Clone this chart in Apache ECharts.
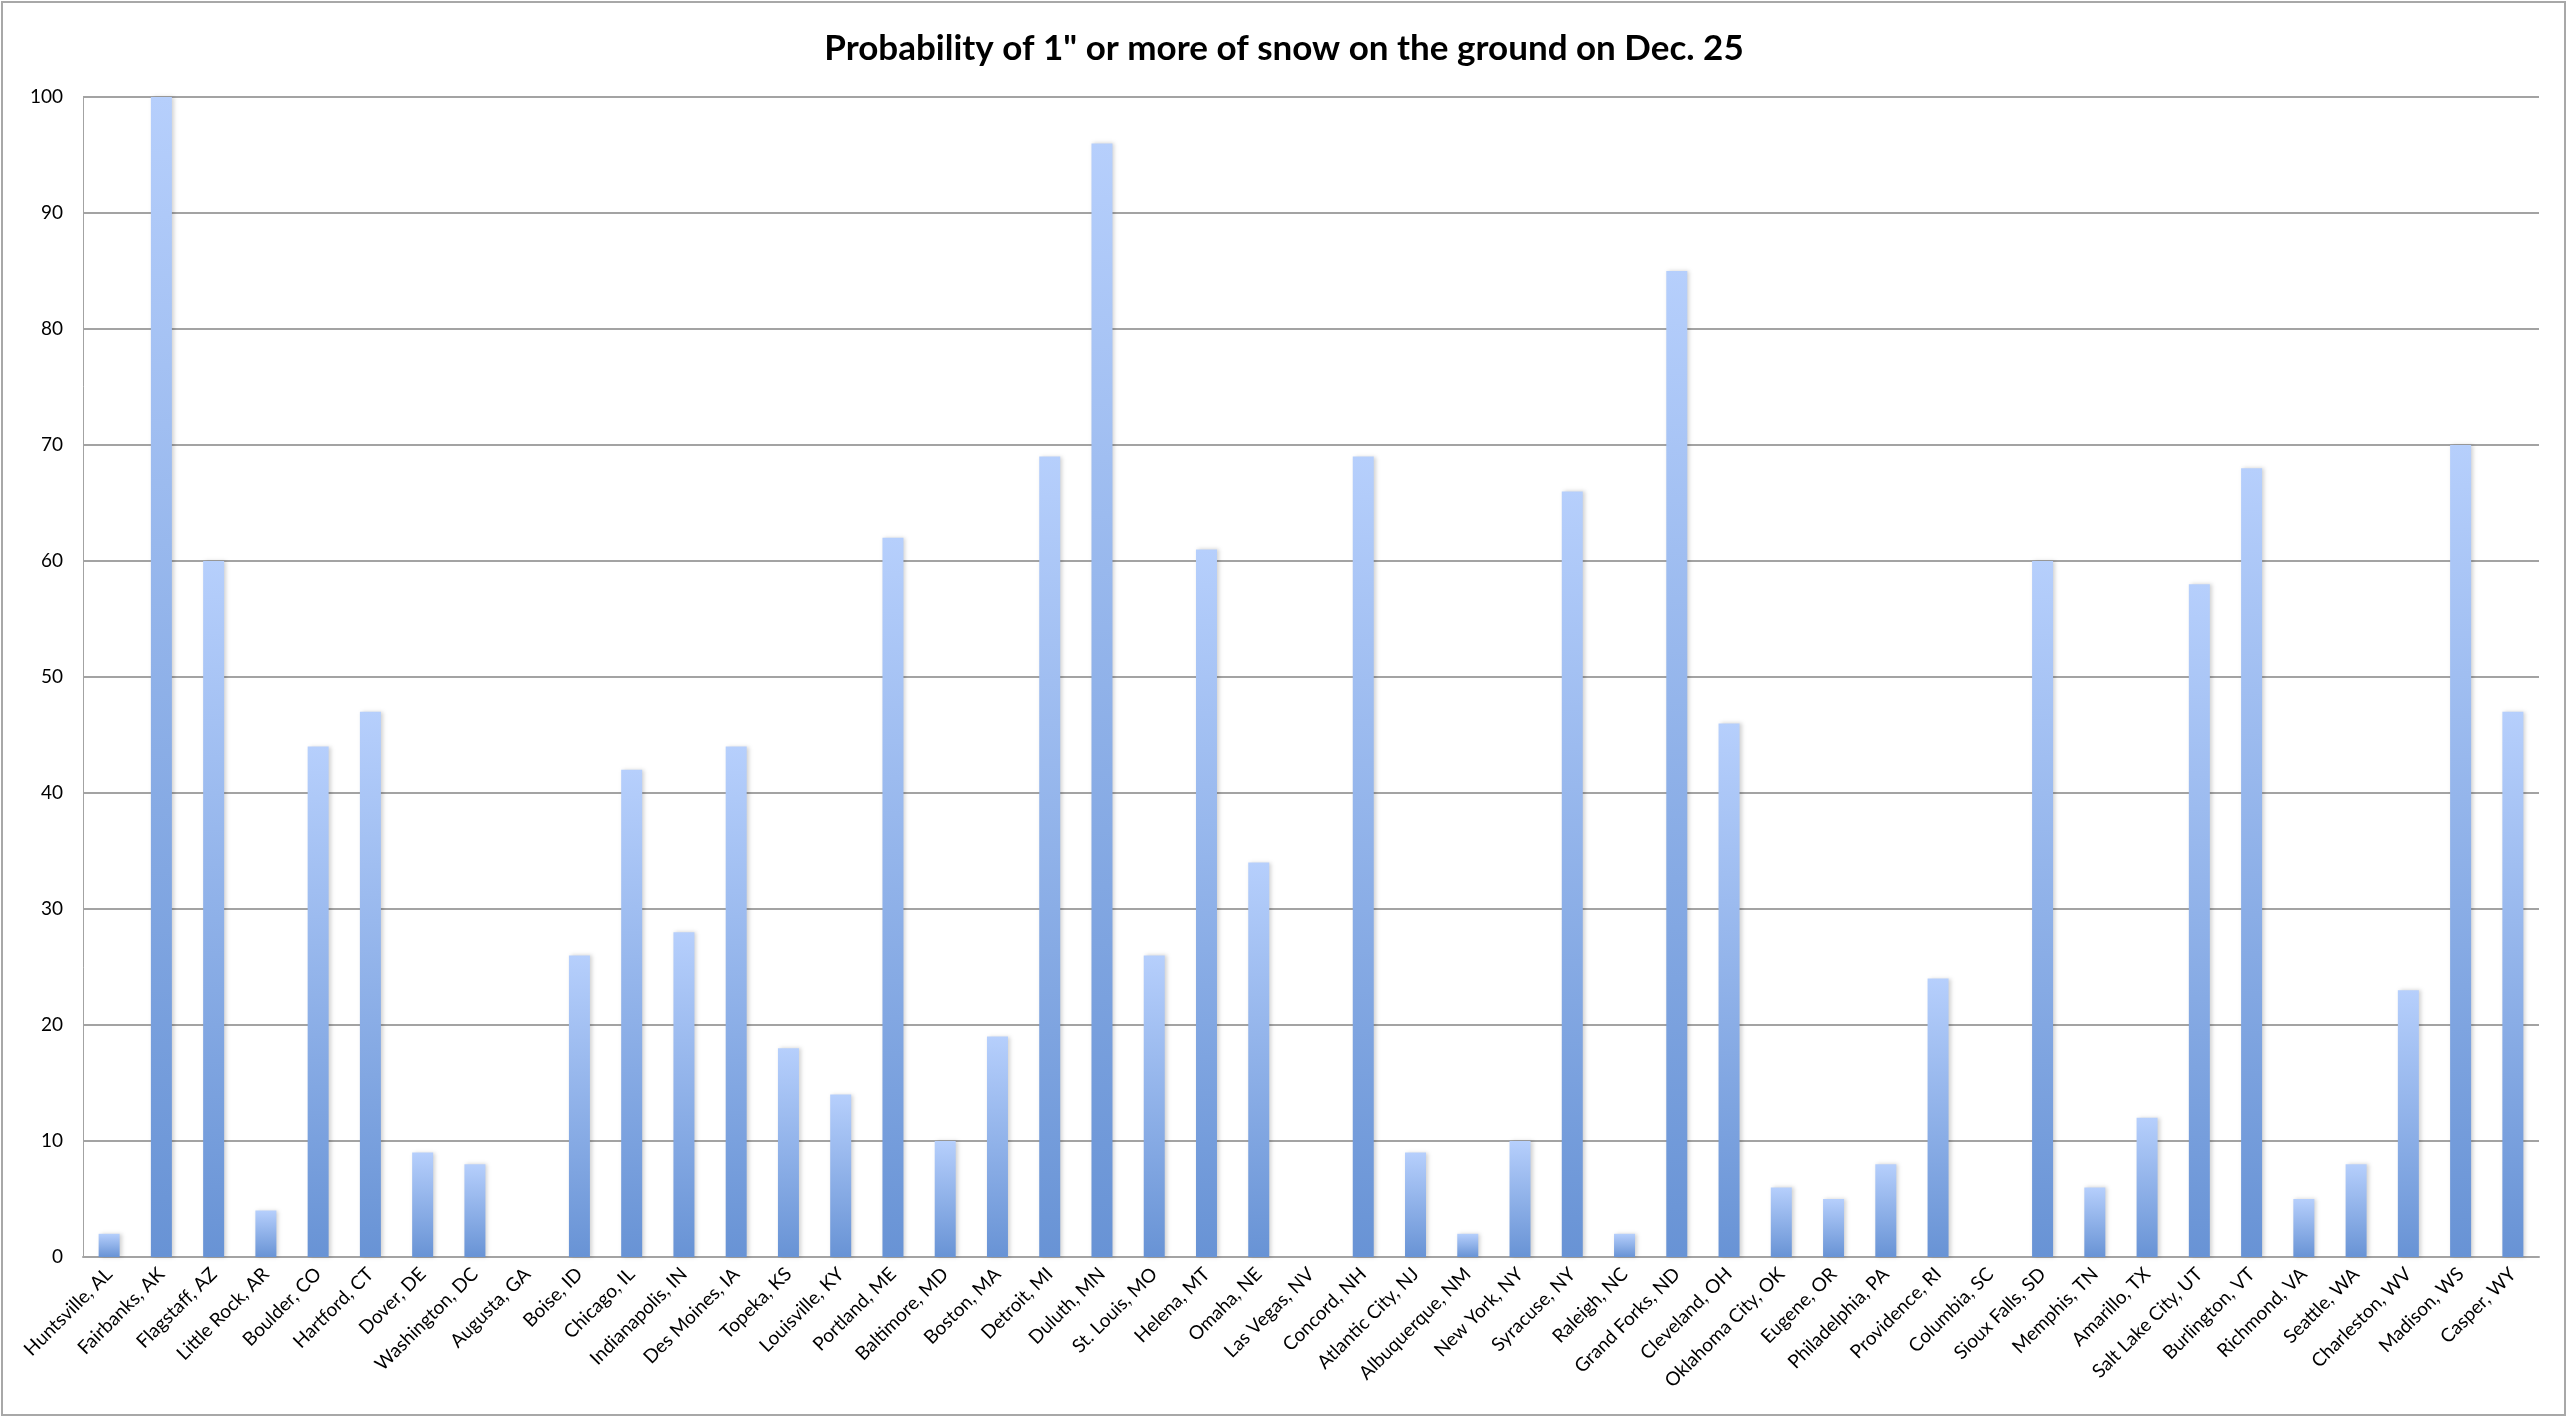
<!DOCTYPE html>
<html>
<head>
<meta charset="utf-8">
<script src="https://cdn.jsdelivr.net/npm/echarts@6/dist/echarts.min.js"></script>
<style>
  html, body { margin: 0; padding: 0; background: #ffffff; }
  #chart { width: 2568px; height: 1418px; }
</style>
</head>
<body>
<div id="chart"></div>
<script>
// Snow on Christmas: probability of >= 1" on the ground, by city.

const cities = [
  'Huntsville, AL', 'Fairbanks, AK', 'Flagstaff, AZ', 'Little Rock, AR', 'Boulder, CO',
  'Hartford, CT', 'Dover, DE', 'Washington, DC', 'Augusta, GA', 'Boise, ID',
  'Chicago, IL', 'Indianapolis, IN', 'Des Moines, IA', 'Topeka, KS', 'Louisville, KY',
  'Portland, ME', 'Baltimore, MD', 'Boston, MA', 'Detroit, MI', 'Duluth, MN',
  'St. Louis, MO', 'Helena, MT', 'Omaha, NE', 'Las Vegas, NV', 'Concord, NH',
  'Atlantic City, NJ', 'Albuquerque, NM', 'New York, NY', 'Syracuse, NY', 'Raleigh, NC',
  'Grand Forks, ND', 'Cleveland, OH', 'Oklahoma City, OK', 'Eugene, OR', 'Philadelphia, PA',
  'Providence, RI', 'Columbia, SC', 'Sioux Falls, SD', 'Memphis, TN', 'Amarillo, TX',
  'Salt Lake City, UT', 'Burlington, VT', 'Richmond, VA', 'Seattle, WA', 'Charleston, WV',
  'Madison, WS', 'Casper, WY'
];

const probability = [
  2, 100, 60, 4, 44,
  47, 9, 8, 0, 26,
  42, 28, 44, 18, 14,
  62, 10, 19, 69, 96,
  26, 61, 34, 0, 69,
  9, 2, 10, 66, 2,
  85, 46, 6, 5, 8,
  24, 0, 60, 6, 12,
  58, 68, 5, 8, 23,
  70, 47
];

const yMin = 0;
const yMax = 100;
const yStep = 10;

const GRID = '#a3a3a3';
const FONT = 'Lato, "Liberation Sans", sans-serif';

const chart = echarts.init(document.getElementById('chart'));

chart.setOption({
  animation: false,
  backgroundColor: '#ffffff',
  title: {
    text: 'Probability of 1" or more of snow on the ground on Dec. 25',
    left: 'center',
    top: 26,
    textStyle: { fontFamily: FONT, fontSize: 35, fontWeight: 'bold', color: '#000000' }
  },
  grid: { left: 83, right: 29, top: 97, bottom: 161, containLabel: false },
  xAxis: {
    type: 'category',
    data: cities,
    axisLine: { lineStyle: { color: GRID, width: 2 } },
    axisTick: { show: false },
    axisLabel: {
      interval: 0,
      rotate: 45,
      margin: 14,
      fontFamily: FONT,
      fontSize: 19,
      color: '#000000'
    }
  },
  yAxis: {
    type: 'value',
    min: yMin,
    max: yMax,
    interval: yStep,
    axisLine: { show: true, lineStyle: { color: GRID, width: 1 } },
    axisTick: { show: false },
    axisLabel: { margin: 20, fontFamily: FONT, fontSize: 19, color: '#000000' },
    splitLine: { lineStyle: { color: GRID, width: 2 } }
  },
  series: [{
    type: 'bar',
    data: probability,
    barWidth: 21,
    itemStyle: {
      color: new echarts.graphic.LinearGradient(0, 0, 0, 1, [
        { offset: 0, color: '#b6cffc' },
        { offset: 1, color: '#6893d5' }
      ]),
      shadowColor: 'rgba(0,0,0,0.18)',
      shadowBlur: 4,
      shadowOffsetX: 2
    }
  }],
  graphic: [{
    type: 'rect',
    shape: { x: 2, y: 2, width: 2563, height: 1413 },
    style: { fill: null, stroke: '#a8a8a8', lineWidth: 2 },
    silent: true
  }]
});
</script>
</body>
</html>
